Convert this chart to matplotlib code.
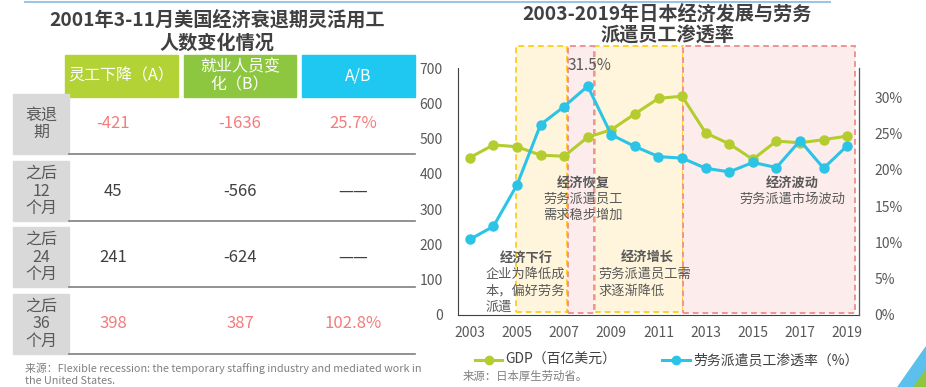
import matplotlib
matplotlib.use("Agg")
import matplotlib.pyplot as plt
from matplotlib.patches import Rectangle, Polygon
from matplotlib.lines import Line2D

plt.rcParams['font.family'] = ['Noto Sans CJK SC', 'DejaVu Sans']

# ---------------- data ----------------
years = [2003, 2004, 2005, 2006, 2007, 2008, 2009, 2010, 2011, 2012,
         2013, 2014, 2015, 2016, 2017, 2018, 2019]
gdp = [446, 482, 477, 453, 450, 504, 525, 570, 614, 620,
       516, 485, 441, 493, 488, 497, 507]
dispatch_rate = [10.4, 12.2, 17.9, 26.2, 28.7, 31.5, 24.8, 23.2, 21.8, 21.6,
                 20.2, 19.7, 21.0, 20.3, 24.0, 20.2, 23.3]
xtick_years = [2003, 2005, 2007, 2009, 2011, 2013, 2015, 2017, 2019]
left_ticks = [0, 100, 200, 300, 400, 500, 600, 700]
right_ticks = [0, 5, 10, 15, 20, 25, 30]

# phases: (start, end, kind)
phases = [(2004.95, 2007.13, 'y'), (2008.3, 2012.05, 'y'),
          (2007.15, 2008.27, 'p'), (2012.05, 2019.35, 'p')]

table_headers = ['灵工下降（A）', '就业人员变\n化（B）', 'A/B']
row_labels = ['衰退\n期', '之后\n12\n个月', '之后\n24\n个月', '之后\n36\n个月']
col_a = ['-421', '45', '241', '398']
col_b = ['-1636', '-566', '-624', '387']
col_ab = ['25.7%', '——', '——', '102.8%']
row_highlight = [True, False, False, True]

# ---------------- figure ----------------
W, H = 926, 387
fig = plt.figure(figsize=(W / 100, H / 100), dpi=100)

def P(x, y):
    return (x / W, 1 - y / H)

def frect(x0, y0, x1, y1, **kw):
    r = Rectangle(P(x0, y1), (x1 - x0) / W, (y1 - y0) / H,
                  transform=fig.transFigure, **kw)
    fig.patches.append(r)

dark = '#404040'
gray = '#595959'
pink_txt = '#F47C7C'

# top decorative line
fig.add_artist(Line2D([25 / W, 830 / W], [1 - 1.5 / H, 1 - 1.5 / H],
                      color='#9DC3E6', lw=1.5, transform=fig.transFigure))

# ---------------- left table ----------------
fig.text(*P(217, 20), '2001年3-11月美国经济衰退期灵活用工', ha='center', va='center',
         fontsize=13.8, fontweight='bold', color=dark)
fig.text(*P(217, 43), '人数变化情况', ha='center', va='center',
         fontsize=13.8, fontweight='bold', color=dark)

hdr_cols = [(65, 178, '#B3D235'), (184, 296, '#8DC63F'), (302, 415, '#1FC8F0')]
for (x0, x1, c), t in zip(hdr_cols, table_headers):
    frect(x0, 55, x1, 97, color=c, zorder=1)
    fig.text(*P((x0 + x1) / 2, 76), t, ha='center', va='center', fontsize=11.5,
             color='white', linespacing=1.05)

rows_y = [(94, 154), (161, 221), (227, 287), (294, 354)]
col_x = [113, 240, 353]
for i, (y0, y1) in enumerate(rows_y):
    frect(13, y0, 69, y1, color='#D9D9D9', zorder=1)
    fig.text(*P(41, (y0 + y1) / 2), row_labels[i], ha='center', va='center',
             fontsize=11.5, color=gray, linespacing=1.05)
    fig.add_artist(Line2D([69 / W, 415 / W], [1 - y1 / H, 1 - y1 / H],
                          color='#7F7F7F', lw=1.2, transform=fig.transFigure))
    c = pink_txt if row_highlight[i] else dark
    yc = (y0 + y1) / 2
    for xc, v in zip(col_x, [col_a[i], col_b[i], col_ab[i]]):
        fig.text(*P(xc, yc), v, ha='center', va='center', fontsize=12, color=c)

fig.text(*P(25, 368), '来源：Flexible recession: the temporary staffing industry and mediated work in',
         ha='left', va='center', fontsize=7.8, color='#808080')
fig.text(*P(25, 381), 'the United States.', ha='left', va='center', fontsize=7.8, color='#808080')

# ---------------- right chart ----------------
fig.text(*P(667, 14), '2003-2019年日本经济发展与劳务', ha='center', va='center',
         fontsize=13.8, fontweight='bold', color=dark)
fig.text(*P(667, 36), '派遣员工渗透率', ha='center', va='center',
         fontsize=13.8, fontweight='bold', color=dark)

ax = fig.add_axes([458 / W, 1 - 315 / H, 401 / W, 247 / H])
ax.patch.set_alpha(0)
ax2 = ax.twinx()

ax.set_xlim(2002.5, 2019.5)
ax.set_ylim(0, 700)
ax2.set_ylim(0, 34.0)

top_val = (315 - 46) / (247 / 700)
for x0, x1, kind in phases:
    if kind == 'y':
        fc, ec, b = '#FFF5DC', '#FFD02A', 9
    else:
        fc, ec, b = '#FDECEC', '#F09393', 5
    ax.add_patch(Rectangle((x0, b), x1 - x0, top_val - b, facecolor=fc, edgecolor=ec,
                           lw=1.4, ls=(0, (3, 2)), clip_on=False, zorder=0))

green = '#B5CC2E'
blue = '#2BC4E6'
ax.plot(years, gdp, color=green, lw=2.2, marker='o', ms=6.5, zorder=3, clip_on=False)
ax2.plot(years, dispatch_rate, color=blue, lw=2.2, marker='o', ms=6.5, zorder=3, clip_on=False)

ax.set_xticks(xtick_years)
ax.set_yticks(left_ticks)
ax2.set_yticks(right_ticks)
ax2.set_yticklabels([f'{v}%' for v in right_ticks])
ax.tick_params(axis='both', length=0, labelsize=10, labelcolor=gray)
ax.tick_params(axis='y', pad=11)
ax.tick_params(axis='x', pad=8)
ax2.tick_params(axis='y', length=0, labelsize=10, labelcolor=gray, pad=11)
for a in (ax, ax2):
    a.spines['top'].set_visible(False)
ax.spines['left'].set_color(dark)
ax.spines['bottom'].set_color(dark)
ax2.spines['right'].set_color(gray)
ax2.spines['left'].set_visible(False)
ax2.spines['bottom'].set_visible(False)

# annotations
fs = 9.5
fig.text(*P(589, 65), '31.5%', ha='center', va='center', fontsize=11, color=gray)
fig.text(*P(583, 183), '经济恢复', ha='center', va='center', fontsize=fs, fontweight='bold', color=gray)
fig.text(*P(583, 199), '劳务派遣员工', ha='center', va='center', fontsize=fs, color=gray)
fig.text(*P(583, 215), '需求稳步增加', ha='center', va='center', fontsize=fs, color=gray)
fig.text(*P(792, 183), '经济波动', ha='center', va='center', fontsize=fs, fontweight='bold', color=gray)
fig.text(*P(792, 199), '劳务派遣市场波动', ha='center', va='center', fontsize=fs, color=gray)
fig.text(*P(526, 258), '经济下行', ha='center', va='center', fontsize=fs, fontweight='bold', color=gray)
fig.text(*P(486, 274), '企业为降低成', ha='left', va='center', fontsize=fs, color=gray)
fig.text(*P(486, 291), '本，偏好劳务', ha='left', va='center', fontsize=fs, color=gray)
fig.text(*P(486, 307), '派遣', ha='left', va='center', fontsize=fs, color=gray)
fig.text(*P(647, 258), '经济增长', ha='center', va='center', fontsize=fs, fontweight='bold', color=gray)
fig.text(*P(598, 274), '劳务派遣员工需', ha='left', va='center', fontsize=fs, color=gray)
fig.text(*P(598, 291), '求逐渐降低', ha='left', va='center', fontsize=fs, color=gray)

# legend (manual)
def leg(x0, x1, color, label):
    fig.add_artist(Line2D([x0 / W, (x0 + x1) / 2 / W, x1 / W], [1 - 360 / H] * 3,
                          color=color, lw=2.2, marker='o', ms=6, markevery=[1],
                          transform=fig.transFigure))
    fig.text(*P(x1 + 3, 360), label, ha='left', va='center', fontsize=10, color=dark)

leg(475, 502, green, 'GDP（百亿美元）')
leg(662, 690, blue, '劳务派遣员工渗透率（%）')
fig.text(*P(463, 376), '来源：日本厚生劳动省。', ha='left', va='center', fontsize=8.2, color='#808080')

# corner decoration
fig.patches.append(Polygon([P(898, 387), P(926, 347), P(926, 387)], closed=True,
                           color='#5BC0EB', transform=fig.transFigure))
fig.patches.append(Polygon([P(914, 387), P(926, 370), P(926, 387)], closed=True,
                           color='#8DC63F', transform=fig.transFigure))

fig.savefig('out.png', dpi=100)
